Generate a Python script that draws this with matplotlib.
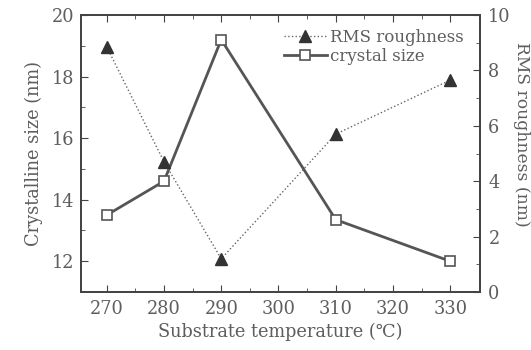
import matplotlib
matplotlib.use("Agg")
import matplotlib.pyplot as plt
from matplotlib.ticker import MultipleLocator

temps = [270, 280, 290, 310, 330]
crystal_size = [13.5, 14.6, 19.2, 13.35, 12.0]
rms_roughness = [8.85, 4.7, 1.2, 5.7, 7.65]

plt.rcParams['font.family'] = ['DejaVu Serif']
tc = '#5e5e5e'
fs = 12.8

fig = plt.figure(figsize=(5.31, 3.5), dpi=100)
ax = fig.add_axes([81/531, 1-292/350, (480-81)/531, (292-15)/350])
ax2 = ax.twinx()

l2, = ax2.plot(temps, rms_roughness, linestyle=':', color='#666666', lw=1.0,
               marker='^', markersize=8, markerfacecolor='#333333', markeredgecolor='#333333',
               label='RMS roughness')
l1, = ax.plot(temps, crystal_size, linestyle='-', color='#555555', lw=2.0,
              marker='s', markersize=7, markerfacecolor='white', markeredgecolor='#555555',
              markeredgewidth=1.2, label='crystal size')

ax.set_xlim(265.5, 335.2)
ax.set_ylim(11, 20)
ax2.set_ylim(0, 10)

ax.xaxis.set_major_locator(MultipleLocator(10))
ax.xaxis.set_minor_locator(MultipleLocator(5))
ax.yaxis.set_major_locator(MultipleLocator(2))
ax.yaxis.set_minor_locator(MultipleLocator(1))
ax2.yaxis.set_major_locator(MultipleLocator(2))
ax2.yaxis.set_minor_locator(MultipleLocator(1))

ax.tick_params(axis='both', which='both', direction='in', colors='#444444', labelcolor=tc, labelsize=fs)
ax.tick_params(axis='x', which='both', top=True, pad=6)
ax.tick_params(axis='y', pad=5)
ax.tick_params(which='major', length=5)
ax.tick_params(which='minor', length=3)
ax2.tick_params(axis='y', which='both', direction='in', colors='#444444', labelcolor=tc, labelsize=fs, pad=6)
ax2.tick_params(which='major', length=5)
ax2.tick_params(which='minor', length=3)

for a in (ax, ax2):
    for s in a.spines.values():
        s.set_color('#444444')
        s.set_linewidth(1.3)

ax.set_xlabel('Substrate temperature (\u2103)', fontsize=fs, color=tc, labelpad=3)
ax.set_ylabel('Crystalline size (nm)', fontsize=fs, color=tc, labelpad=6)
ax2.set_ylabel('RMS roughness (nm)', fontsize=12.3, color=tc, rotation=270, va='center')
ax2.yaxis.set_label_coords((522 - 81) / 399, 0.57)

leg = ax.legend([l2, l1], ['RMS roughness', 'crystal size'], loc='upper right',
                bbox_to_anchor=(0.985, 0.985), frameon=False, fontsize=12,
                handlelength=2.6, handletextpad=0.2, labelspacing=0.1, borderaxespad=0.2)
for t in leg.get_texts():
    t.set_color(tc)

fig.savefig('out.png', dpi=100)
